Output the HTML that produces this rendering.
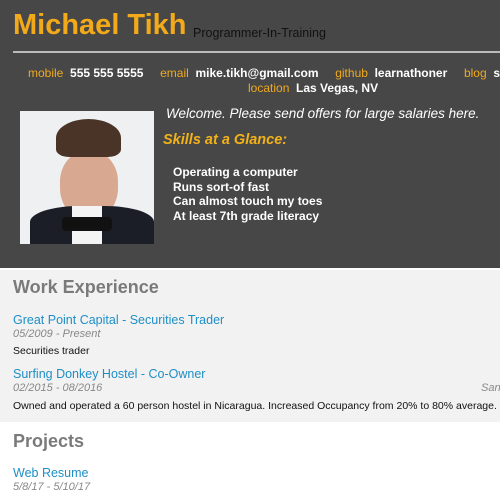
<!DOCTYPE html>
<html><head><meta charset="utf-8"><style>
*{margin:0;padding:0;box-sizing:border-box}
body{width:500px;height:500px;overflow:hidden;background:#fff;font-family:"Liberation Sans",sans-serif;position:relative}
.a{position:absolute;white-space:nowrap}
#hdr{position:absolute;left:0;top:0;width:500px;height:268px;background:#474747}
#work{position:absolute;left:0;top:270px;width:500px;height:152px;background:#f2f2f2}
.lab{color:#f0aa1c}.val{color:#fff;font-weight:bold}
.t{color:#1e8fc6;font-size:12.5px}
.d{color:#888;font-style:italic;font-size:11px}
.h{color:#7a7a7a;font-weight:bold;font-size:18px}
</style></head><body>
<div id="hdr"></div>
<div class="a" style="left:13px;top:9px;font-size:29px;font-weight:bold;color:#f2aa1a">Michael Tikh</div>
<div class="a" style="left:193px;top:26px;font-size:12.5px;color:#111">Programmer-In-Training</div>
<div class="a" style="left:13px;top:51px;width:487px;height:2px;background:#bbb"></div>
<div class="a" style="left:28px;top:66px;font-size:12px"><span class="lab">mobile</span>&nbsp;&nbsp;<span class="val">555 555 5555</span>&nbsp;&nbsp;&nbsp;&nbsp;&nbsp;<span class="lab">email</span>&nbsp;&nbsp;<span class="val">mike.tikh@gmail.com</span>&nbsp;&nbsp;&nbsp;&nbsp;&nbsp;<span class="lab">github</span>&nbsp;&nbsp;<span class="val">learnathoner</span>&nbsp;&nbsp;&nbsp;&nbsp;&nbsp;<span class="lab">blog</span>&nbsp;&nbsp;<span class="val">se</span></div>
<div class="a" style="left:248px;top:81px;font-size:12px"><span class="lab">location</span>&nbsp;&nbsp;<span class="val">Las Vegas, NV</span></div>
<div class="a" style="left:20px;top:111px;width:134px;height:133px;background:#eef0f2;overflow:hidden">
<div style="position:absolute;left:40px;top:40px;width:58px;height:68px;border-radius:45%;background:#d8a890"></div>
<div style="position:absolute;left:36px;top:8px;width:65px;height:38px;border-radius:50% 50% 20% 20%;background:#4a3428"></div>
<div style="position:absolute;left:10px;top:95px;width:124px;height:40px;border-radius:40% 40% 0 0;background:#1b1e26"></div>
<div style="position:absolute;left:52px;top:95px;width:30px;height:40px;background:#f4f4f4"></div>
<div style="position:absolute;left:42px;top:106px;width:50px;height:14px;background:#111;border-radius:4px"></div>
</div>
<div class="a" style="left:166px;top:106px;font-size:13.5px;font-style:italic;color:#fff">Welcome. Please send offers for large salaries here.</div>
<div class="a" style="left:163px;top:132px;font-size:14.5px;font-style:italic;font-weight:bold;color:#f2b21a">Skills at a Glance:</div>
<div class="a" style="left:173px;top:165px;font-size:12px;font-weight:bold;color:#fff;line-height:14.5px">Operating a computer<br>Runs sort-of fast<br>Can almost touch my toes<br>At least 7th grade literacy</div>
<div id="work"></div>
<div class="a h" style="left:13px;top:277px">Work Experience</div>
<div class="a t" style="left:13px;top:313px">Great Point Capital - Securities Trader</div>
<div class="a d" style="left:13px;top:328px">05/2009 - Present</div>
<div class="a" style="left:13px;top:345px;font-size:10.5px;color:#111">Securities trader</div>
<div class="a t" style="left:13px;top:367px">Surfing Donkey Hostel - Co-Owner</div>
<div class="a d" style="left:13px;top:382px">02/2015 - 08/2016</div>
<div class="a d" style="left:481px;top:382px">San</div>
<div class="a" style="left:13px;top:400px;font-size:10.5px;color:#111">Owned and operated a 60 person hostel in Nicaragua. Increased Occupancy from 20% to 80% average.</div>
<div class="a h" style="left:13px;top:431px">Projects</div>
<div class="a t" style="left:13px;top:466px">Web Resume</div>
<div class="a d" style="left:13px;top:481px">5/8/17 - 5/10/17</div>
</body></html>
